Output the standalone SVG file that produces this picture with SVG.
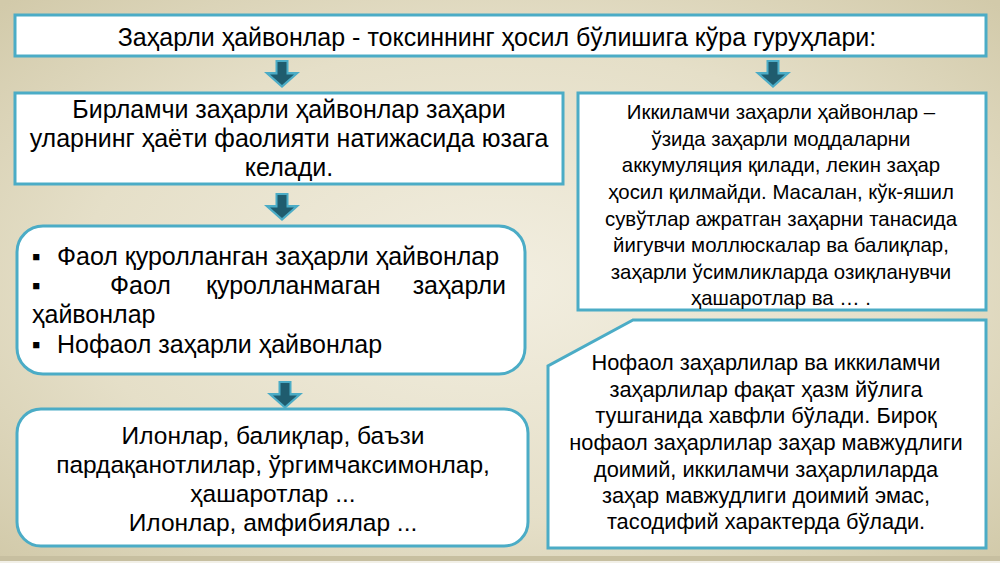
<svg xmlns="http://www.w3.org/2000/svg" width="1000" height="563" viewBox="0 0 1000 563">
<defs>
<radialGradient id="bg" cx="50%" cy="50%" r="70%">
<stop offset="0" stop-color="#F2EEE0"/>
<stop offset="0.6" stop-color="#E5DFC8"/>
<stop offset="1" stop-color="#D2CAAA"/>
</radialGradient>
<g id="arrow">
<path d="M-6.5,0 H6.5 V12 H18 L0,28 L-18,12 H-6.5 Z" fill="#4BACC6"/>
<path d="M-4.5,2 H4.5 V14.5 H12 L0,25 L-12,14.5 H-4.5 Z" fill="#1F5C6E"/>
</g>
</defs>
<style>
.box{fill:#FFFFFF;stroke:#4BACC6;stroke-width:3}
text{font-family:"Liberation Sans",Arial,sans-serif;fill:#000000}
.t25{font-size:25px}
.t24{font-size:24.5px}
.t20{font-size:20.4px}
.t22{font-size:21.8px}
.c{text-anchor:middle}
</style>
<rect x="0" y="0" width="1000" height="563" fill="url(#bg)"/>
<rect x="0" y="556" width="1000" height="5" fill="#C7BFA0"/>
<rect x="0" y="561" width="1000" height="2" fill="#F2F0E8"/>

<g id="connectors">
<use href="#arrow" x="282" y="60"/>
<use href="#arrow" x="773" y="60"/>
<use href="#arrow" x="282" y="193"/>
<use href="#arrow" x="285" y="381"/>
</g>

<g id="title">
<rect class="box" x="15" y="15" width="971" height="41"/>
<text class="t25 c" x="497" y="46">Заҳарли ҳайвонлар - токсиннинг ҳосил бўлишига кўра гуруҳлари:</text>
</g>

<g id="primary">
<rect class="box" x="15" y="93" width="548" height="91"/>
<text class="t25 c" x="289" y="118">Бирламчи заҳарли ҳайвонлар заҳари</text>
<text class="t25 c" x="289" y="147">уларнинг ҳаёти фаолияти натижасида юзага</text>
<text class="t25 c" x="289" y="176">келади.</text>
</g>

<g id="secondary">
<rect class="box" x="578" y="93" width="408" height="217"/>
<text class="t20 c" x="781" y="119">Иккиламчи заҳарли ҳайвонлар –</text>
<text class="t20 c" x="781" y="146">ўзида заҳарли моддаларни</text>
<text class="t20 c" x="781" y="172">аккумуляция қилади, лекин заҳар</text>
<text class="t20 c" x="781" y="199">ҳосил қилмайди. Масалан, кўк-яшил</text>
<text class="t20 c" x="781" y="226">сувўтлар ажратган заҳарни танасида</text>
<text class="t20 c" x="781" y="252">йигувчи моллюскалар ва балиқлар,</text>
<text class="t20 c" x="781" y="279">заҳарли ўсимликларда озиқланувчи</text>
<text class="t20 c" x="781" y="305">ҳашаротлар ва … .</text>
</g>

<g id="types">
<rect class="box" x="17" y="226" width="508" height="148" rx="26" ry="26"/>
<text class="t25" x="32" y="265">▪</text>
<text class="t25" x="57" y="265">Фаол қуролланган заҳарли ҳайвонлар</text>
<text class="t25" x="32" y="294">▪</text>
<text class="t25" x="110" y="294">Фаол</text>
<text class="t25" x="206" y="294">қуролланмаган</text>
<text class="t25" x="506" y="294" text-anchor="end">заҳарли</text>
<text class="t25" x="32" y="323">ҳайвонлар</text>
<text class="t25" x="32" y="353">▪</text>
<text class="t25" x="57" y="353">Нофаол заҳарли ҳайвонлар</text>
</g>

<g id="examples">
<rect class="box" x="17" y="409" width="511" height="137" rx="24" ry="24"/>
<text class="t24 c" x="273" y="444">Илонлар, балиқлар, баъзи</text>
<text class="t24 c" x="273" y="473">пардақанотлилар, ўргимчаксимонлар,</text>
<text class="t24 c" x="273" y="502">ҳашаротлар ...</text>
<text class="t24 c" x="273" y="531">Илонлар, амфибиялар ...</text>
</g>

<g id="note">
<path class="box" d="M633,320 H986 V548 H548 V366 Z"/>
<text class="t22 c" x="766" y="370">Нофаол заҳарлилар ва иккиламчи</text>
<text class="t22 c" x="766" y="397">заҳарлилар фақат ҳазм йўлига</text>
<text class="t22 c" x="766" y="423">тушганида хавфли бўлади. Бироқ</text>
<text class="t22 c" x="766" y="450">нофаол заҳарлилар заҳар мавжудлиги</text>
<text class="t22 c" x="766" y="477">доимий, иккиламчи заҳарлиларда</text>
<text class="t22 c" x="766" y="503">заҳар мавжудлиги доимий эмас,</text>
<text class="t22 c" x="766" y="529">тасодифий характерда бўлади.</text>
</g>
</svg>
